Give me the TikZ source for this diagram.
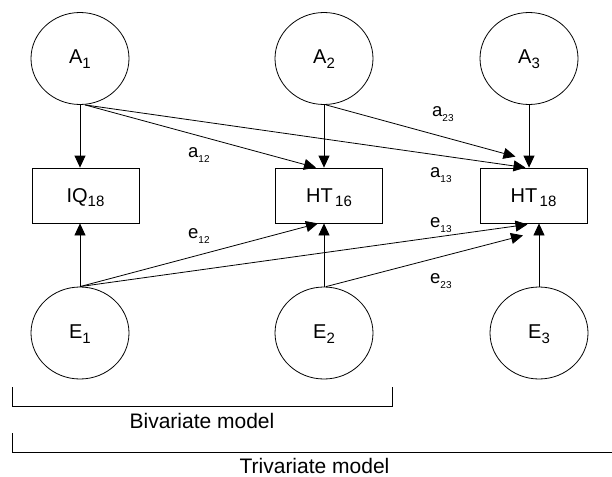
\documentclass[tikz,border=0pt]{standalone}
\usepackage{fontspec}
\setmainfont{Liberation Sans}
\usetikzlibrary{arrows.meta,shapes.geometric}
\newcommand{\nlab}[2]{#1\raisebox{-4.5pt}[0pt][0pt]{\fontsize{15}{15}\selectfont #2}}
\newcommand{\plab}[2]{#1\raisebox{-5pt}[0pt][0pt]{\fontsize{10}{10}\selectfont #2}}
\begin{document}
\begin{tikzpicture}[x=1pt,y=-1pt,
  lat/.style={draw, ellipse, minimum width=98pt, minimum height=92pt, inner sep=0pt,
    line width=0.8pt, text height=13pt, text depth=2pt, font=\fontsize{20}{24}\selectfont},
  obs/.style={draw, rectangle, minimum width=107pt, minimum height=55pt, inner sep=0pt,
    line width=0.8pt, text height=14pt, text depth=1pt, font=\fontsize{20}{24}\selectfont},
  arr/.style={-{Triangle[length=12pt,width=11pt]}, line width=0.8pt},
  plabel/.style={anchor=base west, inner sep=0pt, font=\fontsize{18.5}{20}\selectfont},
  brack/.style={line width=0.8pt},
  btext/.style={anchor=base, inner sep=0pt, font=\fontsize{21}{24}\selectfont}
]
\useasboundingbox (0,0) rectangle (612,476);
% latent factors
\node[lat] (A1) at (80,58.5) {\nlab{A}{1}};
\node[lat] (A2) at (324,58.5) {\nlab{A}{2}};
\node[lat] (A3) at (529,58.5) {\nlab{A}{3}};
\node[lat] (E1) at (80,333) {\nlab{E}{1}};
\node[lat] (E2) at (324,333) {\nlab{E}{2}};
\node[lat] (E3) at (539,333) {\nlab{E}{3}};
% observed
\node[obs] (IQ) at (85.5,195.5) {\nlab{IQ}{18}};
\node[obs] (HT16) at (329,195.5) {\nlab{HT}{\,16}};
\node[obs] (HT18) at (533.5,195.5) {\nlab{HT}{\,18}};
% paths from A
\draw[arr] (A1.south) -- (A1.south |- IQ.north);
\draw[arr] ([xshift=5pt]A1.south) -- ([xshift=-13pt]HT16.north);
\draw[arr] ([xshift=5pt]A1.south) -- ([xshift=-8pt]HT18.north);
\draw[arr] (A2.south) -- (A2.south |- HT16.north);
\draw[arr] ([xshift=2pt]A2.south) -- ([xshift=-18pt,yshift=11pt]HT18.north);
\draw[arr] (A3.south) -- (A3.south |- HT18.north);
% paths from E
\draw[arr] (E1.north) -- (E1.north |- IQ.south);
\draw[arr] (E1.north) -- ([xshift=-11pt]HT16.south);
\draw[arr] (E1.north) -- ([xshift=-6pt,yshift=-1pt]HT18.south);
\draw[arr] (E2.north) -- (E2.north |- HT16.south);
\draw[arr] ([xshift=2pt]E2.north) -- ([xshift=-10.5pt,yshift=-12pt]HT18.south);
\draw[arr] (E3.north) -- (E3.north |- HT18.south);
% path labels
\node[plabel] (la12) at (188,157) {\plab{a}{12}};
\node[plabel] (la23) at (432,117) {\plab{a}{23}};
\node[plabel] (la13) at (430,177) {\plab{a}{13}};
\node[plabel] (le12) at (188,238) {\plab{e}{12}};
\node[plabel] (le13) at (430,227) {\plab{e}{13}};
\node[plabel] (le23) at (430,283) {\plab{e}{23}};
% brackets
\draw[brack] (12,387) -- (12,406) -- (392,406) -- (392,387);
\node[btext] (biv) at (202,428) {Bivariate model};
\draw[brack] (12,433) -- (12,452) -- (612,452);
\node[btext] (triv) at (314.5,473) {Trivariate model};
\end{tikzpicture}
\end{document}
